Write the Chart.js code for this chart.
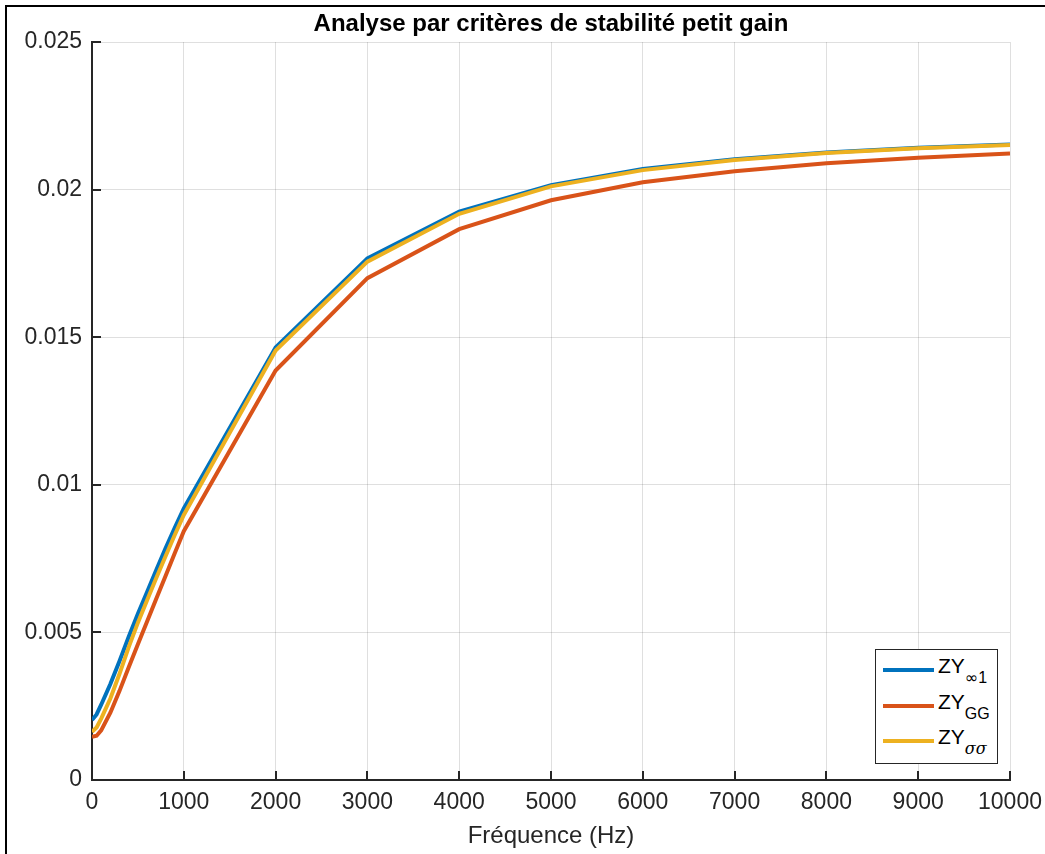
<!DOCTYPE html>
<html>
<head>
<meta charset="utf-8">
<script src="https://cdn.jsdelivr.net/npm/chart.js@4/dist/chart.umd.min.js"></script>
<style>
  html, body { margin: 0; padding: 0; background: #fff; }
  #wrap { position: relative; width: 1045px; height: 854px; overflow: hidden; }
  #frame { position: absolute; left: 5px; top: 5px; width: 1100px; height: 900px;
           border-top: 2px solid #000; border-left: 2px solid #000; pointer-events: none; }
  canvas { position: absolute; left: 0; top: 0; }
  #legend { position: absolute; left: 875px; top: 649px; width: 121px; height: 113px;
            background: #fff; border: 1px solid #262626;
            font-family: "Liberation Sans", Arial, Helvetica, sans-serif; color: #000; }
  .sw { position: absolute; left: 7px; width: 51px; height: 4px; }
  .lbl { position: absolute; left: 62px; font-size: 21px; line-height: 21px; white-space: nowrap; }
  .lbl sub { font-size: 16px; vertical-align: -10px; line-height: 0; }
  .inf { font-family: "DejaVu Sans", sans-serif; font-size: 16px; }
  .it { font-style: italic; font-family: "DejaVu Serif", "Liberation Serif", serif; }
</style>
</head>
<body>
<div id="wrap">
  <canvas id="c" width="1045" height="854"></canvas>
  <div id="frame"></div>
  <div id="legend"></div>
</div>
<script>
// ---- data ----
const freq = [0, 50, 100, 200, 300, 400, 500, 600, 700, 800, 900, 1000,
              2000, 3000, 4000, 5000, 6000, 7000, 8000, 9000, 10000];
const zyInf1 = [0.00203, 0.00222, 0.00255, 0.00325, 0.00403, 0.00485, 0.00563, 0.00637, 0.00711, 0.00784, 0.00853, 0.00920,
                0.01465, 0.01767, 0.01925, 0.02015, 0.02070, 0.02103, 0.02126, 0.02142, 0.02153];
const zyGG = [0.00146, 0.00150, 0.00168, 0.00228, 0.00302, 0.00382, 0.00460, 0.00537, 0.00614, 0.00690, 0.00767, 0.00843,
              0.01387, 0.01700, 0.01866, 0.01964, 0.02025, 0.02062, 0.02089, 0.02108, 0.02122];
const zySigma = [0.00163, 0.00178, 0.00208, 0.00276, 0.00360, 0.00450, 0.00533, 0.00609, 0.00684, 0.00757, 0.00829, 0.00898,
                 0.01455, 0.01756, 0.01918, 0.02011, 0.02066, 0.02100, 0.02124, 0.02140, 0.02151];
const xTickValues = [0, 1000, 2000, 3000, 4000, 5000, 6000, 7000, 8000, 9000, 10000];
const xTickLabels = ['0', '1000', '2000', '3000', '4000', '5000', '6000', '7000', '8000', '9000', '10000'];
const yTickValues = [0, 0.005, 0.01, 0.015, 0.02, 0.025];
const yTickLabels = ['0', '0.005', '0.01', '0.015', '0.02', '0.025'];
const seriesBase = ['ZY', 'ZY', 'ZY'];
const seriesSub = ['∞1', 'GG', 'σσ'];
const seriesColors = ['#0072BD', '#D95319', '#EDB120'];
const titleText = 'Analyse par critères de stabilité petit gain';
const xTitle = 'Fréquence (Hz)';

const FONT = '"Liberation Sans", Arial, Helvetica, sans-serif';
const AXC = '#262626';

function pts(ys) { return freq.map((f, i) => ({ x: f, y: ys[i] })); }

const allSeries = [zyInf1, zyGG, zySigma];
const datasets = allSeries.map((ys, i) => ({
  label: seriesBase[i] + seriesSub[i],
  data: pts(ys),
  borderColor: seriesColors[i],
  backgroundColor: seriesColors[i],
  borderWidth: 4,
  pointRadius: 0,
  tension: 0,
  fill: false,
  order: 3 - i
}));

const inwardTicks = {
  id: 'inwardTicks',
  afterDatasetsDraw(chart) {
    const ctx = chart.ctx, a = chart.chartArea;
    const xs = chart.scales.x, ys = chart.scales.y;
    ctx.save();
    ctx.strokeStyle = AXC;
    ctx.lineWidth = 2;
    ctx.beginPath();
    xTickValues.forEach(v => {
      const px = Math.round(xs.getPixelForValue(v));
      ctx.moveTo(px, a.bottom); ctx.lineTo(px, a.bottom - 9);
    });
    yTickValues.forEach(v => {
      const py = Math.round(ys.getPixelForValue(v));
      ctx.moveTo(a.left, py); ctx.lineTo(a.left + 9, py);
    });
    ctx.stroke();
    ctx.restore();
  }
};

const chart = new Chart(document.getElementById('c'), {
  type: 'line',
  data: { datasets },
  options: {
    responsive: false,
    animation: false,
    layout: { padding: { left: 0, right: 35, top: 0, bottom: 0 } },
    plugins: {
      legend: { display: false },
      tooltip: { enabled: false },
      title: {
        display: true, text: titleText, fullSize: false,
        color: '#000',
        font: { family: FONT, size: 24, weight: 'bold', lineHeight: 1.2 },
        padding: { top: 10, bottom: 3.2 }
      }
    },
    scales: {
      x: {
        type: 'linear', min: 0, max: 10000,
        afterFit(s) { s.height = 74; s.paddingLeft = 0; s.paddingRight = 0; },
        afterBuildTicks(s) { s.ticks = xTickValues.map(v => ({ value: v })); },
        ticks: {
          color: AXC, padding: 9, maxRotation: 0, autoSkip: false,
          font: { family: FONT, size: 23 },
          callback: (v) => { const i = xTickValues.indexOf(v); return i >= 0 ? xTickLabels[i] : ''; }
        },
        grid: { color: 'rgba(38,38,38,0.15)', lineWidth: 1, drawTicks: false, tickLength: 0 },
        border: { display: true, color: AXC, width: 2 },
        title: { display: true, text: xTitle, color: AXC, font: { family: FONT, size: 24 }, padding: { top: 0, bottom: 3 } }
      },
      y: {
        type: 'linear', min: 0, max: 0.025,
        afterFit(s) { s.width = 92; s.paddingTop = 0; s.paddingBottom = 0; },
        afterBuildTicks(s) { s.ticks = yTickValues.map(v => ({ value: v })); },
        ticks: {
          color: AXC, padding: 10, autoSkip: false,
          font: { family: FONT, size: 23 },
          callback: (v) => { const i = yTickValues.findIndex(t => Math.abs(t - v) < 1e-9); return i >= 0 ? yTickLabels[i] : ''; }
        },
        grid: { color: 'rgba(38,38,38,0.15)', lineWidth: 1, drawTicks: false, tickLength: 0 },
        border: { display: true, color: AXC, width: 2 }
      }
    }
  },
  plugins: [inwardTicks]
});

// HTML legend built from the chart's datasets
const leg = document.getElementById('legend');
const rowCenters = [20, 56, 91];
chart.data.datasets.forEach((ds, i) => {
  const cy = rowCenters[i];
  const sw = document.createElement('div');
  sw.className = 'sw';
  sw.style.top = (cy - 2) + 'px';
  sw.style.background = ds.borderColor;
  leg.appendChild(sw);
  const lb = document.createElement('div');
  lb.className = 'lbl';
  lb.style.top = (cy - 15) + 'px';
  lb.appendChild(document.createTextNode(seriesBase[i]));
  const sub = document.createElement('sub');
  if (i === 0) {
    const inf = document.createElement('span');
    inf.className = 'inf';
    inf.textContent = seriesSub[i].charAt(0);
    sub.appendChild(inf);
    sub.appendChild(document.createTextNode(seriesSub[i].slice(1)));
  } else {
    if (i === 2) sub.className = 'it';
    sub.textContent = seriesSub[i];
  }
  lb.appendChild(sub);
  leg.appendChild(lb);
});
</script>
</body>
</html>
